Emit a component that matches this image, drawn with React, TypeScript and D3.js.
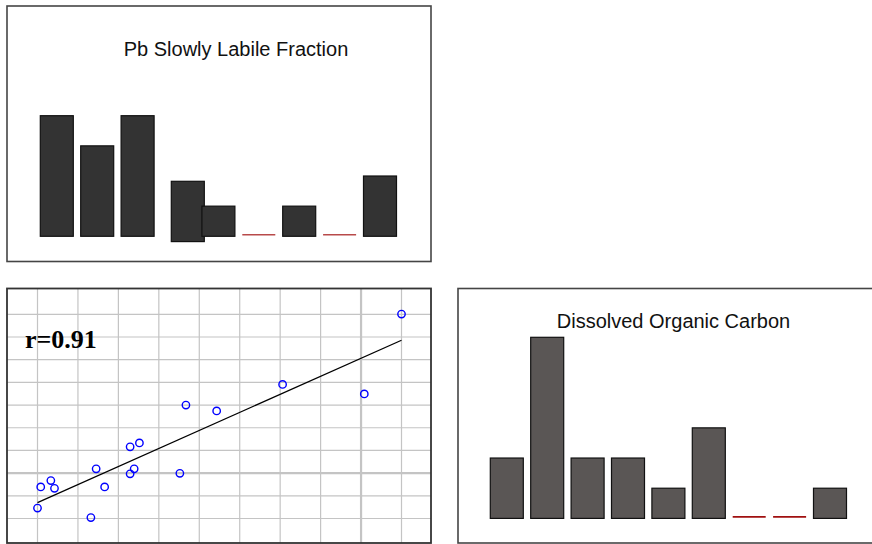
import React from "react";
import * as d3 from "d3";

// Sampling sites shared by both bar panels
const sites = ["S1", "S2", "S3", "S4", "S5", "S6", "S7", "S8", "S9"];

// Pb slowly labile fraction per site (relative units)
const pbSlowlyLabile = [4, 3, 4, 2, 1, 0, 1, 0, 2];

// Dissolved organic carbon per site (relative units)
const dissolvedOrganicCarbon = [2, 6, 2, 2, 1, 3, 0, 0, 1];

// Paired observations for the correlation panel
const scatterX = [9.0, 6.06, 8.08, 3.67, 4.43, 2.52, 2.29, 1.45, 2.39, 2.29, 3.52, 0.33, 0.08, 0.42, 1.66, 0.0, 1.32];
const scatterY = [9.01, 5.91, 5.49, 5.0, 4.74, 3.33, 3.16, 2.19, 2.19, 1.97, 1.99, 1.67, 1.39, 1.33, 1.39, 0.46, 0.04];

// Grid levels of the correlation panel
const gridX = [0, 1, 2, 3, 4, 5, 6, 7, 8, 9];
const gridY = [0, 1, 2, 3, 4, 5, 6, 7, 8, 9];
const emphasisX = 8;
const emphasisY = 2;

const W = 872;
const H = 544;
const FRAME = "#454545";
const SANS = "'Liberation Sans', Arial, Helvetica, sans-serif";

type BarPanelProps = {
  title: string;
  values: number[];
  frame: [number, number, number, number];
  xRange: [number, number];
  yRange: [number, number];
  yMax: number;
  fill: string;
  titleX: number;
  titleY: number;
  zeroColor: string;
  shifted?: { index: number; dx: number; dy: number };
};

function BarPanel(p: BarPanelProps) {
  const x = d3
    .scaleBand<string>()
    .domain(sites)
    .range(p.xRange)
    .paddingInner(0.183)
    .paddingOuter(0.0915);
  const y = d3.scaleLinear().domain([0, p.yMax]).range(p.yRange);
  const [fx, fy, fw, fh] = p.frame;
  return (
    <g>
      <rect x={fx} y={fy} width={fw} height={fh} fill="#fff" stroke={FRAME} strokeWidth={1.6} />
      <text x={p.titleX} y={p.titleY} textAnchor="middle" fontFamily={SANS} fontSize={20} fill="#111">
        {p.title}
      </text>
      {p.values.map((v, i) => {
        const bx = x(sites[i])!;
        const bw = x.bandwidth();
        if (v === 0) {
          return (
            <line
              key={i}
              x1={bx}
              x2={bx + bw}
              y1={y(0) - 1.5}
              y2={y(0) - 1.5}
              stroke={p.zeroColor}
              strokeWidth={1.6}
            />
          );
        }
        const off = p.shifted && p.shifted.index === i ? p.shifted : { dx: 0, dy: 0 };
        return (
          <rect
            key={i}
            x={bx + off.dx}
            y={y(v) + off.dy}
            width={bw}
            height={y(0) - y(v)}
            fill={p.fill}
            stroke="#111"
            strokeWidth={1.2}
          />
        );
      })}
    </g>
  );
}

function ScatterPanel() {
  const fx = 7, fy = 288.5, fw = 424, fh = 254.5;
  const x = d3.scaleLinear().domain([0, 9]).range([37.5, 401.5]);
  const y = d3.scaleLinear().domain([0, 9]).range([518.5, 314.3]);

  const pts = scatterX.map((v, i) => [v, scatterY[i]] as [number, number]);
  const mx = d3.mean(scatterX)!;
  const my = d3.mean(scatterY)!;
  const sxy = d3.sum(pts, ([a, b]) => (a - mx) * (b - my));
  const sxx = d3.sum(scatterX, (a) => (a - mx) ** 2);
  const syy = d3.sum(scatterY, (b) => (b - my) ** 2);
  const slope = sxy / sxx;
  const intercept = my - slope * mx;
  const r = sxy / Math.sqrt(sxx * syy);
  const [xMin, xMax] = d3.extent(scatterX) as [number, number];
  const fit = d3.line<number>().x((v) => x(v)).y((v) => y(intercept + slope * v));

  return (
    <g>
      <defs>
        <clipPath id="scatter-clip">
          <rect x={fx} y={fy} width={fw} height={fh} />
        </clipPath>
      </defs>
      <rect x={fx} y={fy} width={fw} height={fh} fill="#fff" />
      <g clipPath="url(#scatter-clip)" stroke="#c4c4c4">
        {gridY.map((g) => (
          <line key={"h" + g} x1={fx} x2={fx + fw} y1={y(g)} y2={y(g)} strokeWidth={g === emphasisY ? 2.2 : 1.2} />
        ))}
        {gridX.map((g) => (
          <line key={"v" + g} x1={x(g)} x2={x(g)} y1={fy} y2={fy + fh} strokeWidth={g === emphasisX ? 2.2 : 1.2} />
        ))}
      </g>
      <path d={fit([xMin, xMax]) || ""} fill="none" stroke="#000" strokeWidth={1.3} />
      {pts.map(([a, b], i) => (
        <circle key={i} cx={x(a)} cy={y(b)} r={3.7} fill="none" stroke="#0000ff" strokeWidth={1.4} />
      ))}
      <text
        x={25}
        y={348}
        fontFamily="'Liberation Serif', 'Times New Roman', serif"
        fontWeight="bold"
        fontSize={26}
        fill="#000"
      >
        {`r=${r.toFixed(2)}`}
      </text>
      <rect x={fx} y={fy} width={fw} height={fh} fill="none" stroke="#333" strokeWidth={1.8} />
    </g>
  );
}

export default function App() {
  return (
    <svg
      width={W}
      height={H}
      viewBox={`0 0 ${W} ${H}`}
      style={{ position: "absolute", left: 0, top: 0, background: "#fff" }}
    >
      <rect x={0} y={0} width={W} height={H} fill="#fff" />
      <BarPanel
        title="Pb Slowly Labile Fraction"
        values={pbSlowlyLabile}
        frame={[7, 6, 424, 255.5]}
        xRange={[36.6, 400.2]}
        yRange={[236.3, 115.7]}
        yMax={4}
        fill="#333333"
        titleX={236}
        titleY={56}
        zeroColor="#b84a4a"
        shifted={{ index: 3, dx: 9.8, dy: 5.3 }}
      />
      <ScatterPanel />
      <BarPanel
        title="Dissolved Organic Carbon"
        values={dissolvedOrganicCarbon}
        frame={[458, 288.5, 420, 254.5]}
        xRange={[486.6, 850.2]}
        yRange={[518.4, 337.3]}
        yMax={6}
        fill="#5a5655"
        titleX={673.5}
        titleY={328}
        zeroColor="#a01010"
      />
    </svg>
  );
}
